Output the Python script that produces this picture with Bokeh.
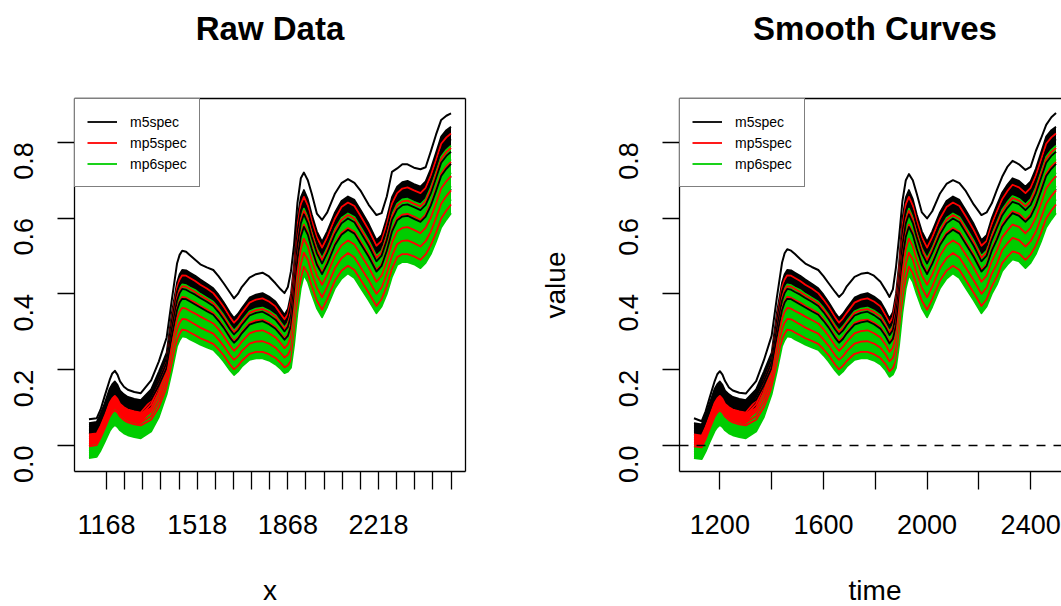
import math
from bokeh.plotting import figure
from bokeh.layouts import row, column
from bokeh.models import (FixedTicker, Legend, LegendItem, Span, LinearAxis,
                          Range1d, PrintfTickFormatter)
from bokeh.core.properties import value
from bokeh.embed import file_html
from bokeh.resources import INLINE

# ---------------- data ----------------
wavelength = [1100, 1130, 1145, 1160, 1180, 1190, 1200, 1210, 1220, 1235,
              1250, 1275, 1300, 1340, 1370, 1400, 1420, 1440, 1450, 1460,
              1475, 1490, 1510, 1530, 1555, 1580, 1600, 1620, 1645, 1660,
              1675, 1690, 1720, 1745, 1770, 1795, 1820, 1840, 1855, 1868,
              1880, 1892, 1905, 1918, 1930, 1945, 1960, 1980, 2000, 2020,
              2050, 2075, 2100, 2125, 2150, 2180, 2210, 2230, 2250, 2270,
              2290, 2310, 2330, 2355, 2380, 2400, 2420, 2440, 2460, 2480, 2498]

# one row per wavelength, one column per representative spectrum
raw_m5spec = [
    [.059, .053, .048, .042, .037, .031], [.062, .056, .051, .045, .040, .034],
    [.084, .078, .072, .067, .061, .055], [.110, .104, .098, .092, .086, .079],
    [.150, .143, .137, .130, .123, .116], [.162, .155, .148, .142, .135, .128],
    [.169, .162, .155, .148, .141, .135], [.160, .153, .147, .140, .133, .127],
    [.145, .139, .132, .126, .120, .114], [.135, .129, .123, .117, .110, .104],
    [.128, .122, .116, .110, .104, .098], [.123, .117, .111, .105, .099, .093],
    [.120, .114, .108, .102, .096, .090], [.148, .139, .130, .121, .113, .104],
    [.195, .183, .171, .159, .147, .135], [.245, .232, .219, .205, .192, .179],
    [.350, .329, .308, .287, .266, .245], [.430, .406, .382, .357, .333, .309],
    [.452, .427, .402, .377, .352, .327], [.463, .438, .413, .387, .362, .337],
    [.462, .437, .411, .386, .361, .335], [.456, .431, .405, .380, .355, .329],
    [.448, .423, .398, .372, .347, .322], [.438, .413, .389, .364, .339, .314],
    [.427, .403, .379, .354, .330, .306], [.415, .392, .368, .345, .321, .298],
    [.398, .375, .352, .329, .306, .283], [.378, .356, .333, .311, .288, .266],
    [.350, .328, .306, .284, .262, .241], [.336, .314, .293, .271, .250, .228],
    [.347, .325, .303, .281, .259, .238], [.362, .340, .318, .296, .273, .251],
    [.390, .366, .343, .319, .296, .272], [.398, .374, .350, .325, .301, .277],
    [.402, .377, .353, .328, .303, .278], [.393, .369, .344, .320, .296, .271],
    [.380, .356, .332, .308, .284, .261], [.360, .337, .315, .292, .269, .246],
    [.345, .323, .301, .279, .256, .234], [.360, .336, .313, .289, .265, .241],
    [.400, .372, .344, .316, .288, .260], [.480, .449, .418, .387, .356, .325],
    [.600, .564, .528, .492, .456, .420], [.655, .620, .586, .551, .517, .482],
    [.674, .642, .610, .577, .545, .513], [.650, .619, .587, .556, .524, .493],
    [.610, .580, .550, .519, .489, .459], [.565, .536, .507, .477, .448, .419],
    [.538, .509, .480, .452, .423, .394], [.565, .536, .508, .479, .450, .422],
    [.615, .586, .557, .529, .500, .471], [.645, .616, .586, .556, .527, .497],
    [.657, .628, .599, .569, .540, .511], [.648, .618, .589, .559, .529, .500],
    [.620, .591, .561, .531, .502, .472], [.585, .556, .527, .498, .469, .440],
    [.542, .514, .486, .459, .431, .403], [.555, .528, .501, .474, .447, .420],
    [.600, .571, .542, .514, .485, .456], [.655, .625, .595, .564, .534, .504],
    [.683, .653, .623, .594, .564, .534], [.695, .665, .634, .604, .574, .543],
    [.698, .667, .636, .606, .575, .544], [.690, .659, .629, .598, .568, .537],
    [.683, .652, .621, .590, .559, .528], [.697, .666, .635, .604, .573, .542],
    [.730, .698, .665, .633, .600, .568], [.772, .738, .705, .671, .637, .604],
    [.815, .780, .746, .711, .677, .642], [.832, .798, .764, .730, .696, .662],
    [.841, .808, .775, .743, .710, .677],
]
raw_mp5spec = [
    [.029, .023, .017, .010, .004, -.002], [.032, .026, .020, .013, .007, .001],
    [.052, .046, .039, .033, .026, .020], [.076, .070, .063, .056, .049, .043],
    [.113, .106, .098, .091, .083, .076], [.124, .117, .109, .102, .094, .087],
    [.131, .124, .116, .108, .101, .093], [.123, .116, .109, .101, .094, .087],
    [.110, .103, .097, .090, .083, .076], [.101, .094, .087, .081, .074, .067],
    [.095, .088, .081, .075, .068, .061], [.090, .083, .076, .070, .063, .056],
    [.087, .080, .073, .067, .060, .053], [.119, .109, .099, .089, .078, .068],
    [.171, .157, .143, .129, .115, .101], [.230, .214, .199, .183, .168, .153],
    [.335, .310, .286, .262, .238, .214], [.417, .389, .362, .334, .306, .279],
    [.438, .410, .381, .353, .324, .295], [.449, .420, .392, .363, .334, .306],
    [.448, .419, .390, .361, .333, .304], [.442, .413, .384, .355, .327, .298],
    [.434, .405, .377, .348, .319, .291], [.424, .396, .368, .340, .311, .283],
    [.414, .386, .359, .331, .303, .276], [.402, .375, .349, .322, .295, .268],
    [.385, .359, .333, .307, .280, .254], [.366, .340, .314, .289, .263, .238],
    [.338, .313, .288, .263, .238, .213], [.324, .299, .275, .250, .226, .201],
    [.335, .310, .285, .260, .235, .210], [.350, .324, .299, .274, .249, .223],
    [.377, .350, .323, .296, .269, .242], [.385, .357, .330, .302, .274, .247],
    [.388, .360, .332, .304, .275, .247], [.380, .352, .324, .296, .269, .241],
    [.367, .340, .312, .285, .258, .231], [.347, .321, .296, .270, .244, .218],
    [.333, .307, .282, .257, .232, .206], [.347, .320, .293, .266, .239, .212],
    [.384, .352, .320, .289, .257, .225], [.463, .428, .392, .357, .322, .287],
    [.580, .539, .498, .457, .416, .375], [.636, .596, .557, .518, .478, .439],
    [.656, .619, .583, .546, .509, .472], [.633, .597, .561, .525, .490, .454],
    [.593, .559, .524, .490, .455, .421], [.549, .516, .482, .449, .416, .382],
    [.522, .489, .456, .424, .391, .358], [.549, .516, .484, .451, .419, .386],
    [.599, .566, .533, .501, .468, .435], [.629, .595, .561, .528, .494, .461],
    [.641, .608, .574, .541, .508, .474], [.632, .598, .564, .530, .496, .463],
    [.604, .570, .536, .503, .469, .436], [.569, .536, .503, .470, .436, .403],
    [.527, .495, .463, .432, .400, .368], [.540, .509, .478, .448, .417, .386],
    [.584, .551, .518, .486, .453, .420], [.638, .604, .569, .535, .500, .466],
    [.666, .633, .599, .565, .531, .497], [.678, .644, .609, .574, .540, .505],
    [.681, .646, .611, .576, .541, .505], [.673, .638, .604, .569, .534, .499],
    [.666, .631, .595, .560, .525, .490], [.680, .645, .609, .574, .539, .504],
    [.712, .675, .638, .601, .564, .528], [.753, .715, .677, .638, .600, .561],
    [.796, .756, .717, .678, .638, .599], [.813, .774, .736, .697, .658, .620],
    [.823, .785, .748, .711, .673, .636],
]
raw_mp6spec = [
    [-.002, -.008, -.014, -.021, -.027, -.033], [.001, -.005, -.011, -.018, -.024, -.030],
    [.020, .013, .007, .000, -.006, -.013], [.043, .036, .029, .022, .015, .008],
    [.076, .068, .061, .053, .046, .038], [.087, .079, .071, .064, .056, .048],
    [.093, .085, .078, .070, .062, .054], [.087, .079, .072, .064, .057, .049],
    [.076, .069, .061, .054, .047, .040], [.067, .060, .053, .046, .039, .032],
    [.061, .055, .048, .041, .034, .027], [.056, .050, .043, .036, .029, .022],
    [.053, .047, .040, .033, .026, .019], [.087, .077, .067, .057, .047, .037],
    [.141, .128, .115, .101, .088, .075], [.207, .192, .178, .164, .149, .135],
    [.308, .286, .263, .240, .218, .195], [.393, .367, .341, .314, .288, .262],
    [.414, .387, .359, .332, .305, .278], [.425, .397, .370, .343, .315, .288],
    [.423, .396, .368, .341, .314, .286], [.417, .390, .362, .335, .308, .280],
    [.410, .382, .355, .328, .300, .273], [.400, .373, .347, .320, .293, .266],
    [.390, .364, .338, .311, .285, .259], [.379, .354, .328, .303, .277, .252],
    [.363, .338, .313, .288, .263, .238], [.344, .319, .295, .271, .246, .222],
    [.317, .293, .269, .245, .222, .198], [.303, .280, .256, .233, .209, .186],
    [.314, .290, .266, .242, .219, .195], [.328, .304, .280, .256, .232, .208],
    [.354, .328, .303, .277, .252, .226], [.361, .335, .309, .282, .256, .230],
    [.364, .337, .311, .284, .257, .230], [.356, .330, .303, .277, .250, .224],
    [.344, .318, .292, .266, .240, .214], [.325, .301, .276, .251, .227, .202],
    [.311, .287, .263, .239, .215, .191], [.324, .298, .272, .247, .221, .195],
    [.357, .327, .296, .266, .235, .205], [.433, .399, .366, .332, .299, .265],
    [.545, .506, .467, .428, .389, .350], [.602, .565, .527, .490, .452, .415],
    [.625, .590, .555, .520, .485, .450], [.602, .568, .534, .500, .466, .432],
    [.564, .531, .498, .466, .433, .400], [.520, .489, .457, .425, .394, .362],
    [.494, .463, .432, .400, .369, .338], [.521, .490, .459, .428, .397, .366],
    [.571, .540, .509, .477, .446, .415], [.600, .568, .536, .504, .472, .440],
    [.612, .581, .549, .517, .486, .454], [.603, .571, .538, .506, .474, .442],
    [.575, .543, .511, .479, .447, .415], [.541, .509, .478, .446, .415, .383],
    [.500, .469, .439, .409, .379, .349], [.514, .484, .455, .426, .396, .367],
    [.556, .525, .494, .462, .431, .400], [.609, .576, .543, .511, .478, .445],
    [.638, .605, .573, .541, .508, .476], [.649, .616, .583, .550, .517, .484],
    [.651, .618, .584, .551, .517, .484], [.643, .610, .577, .544, .511, .478],
    [.636, .602, .569, .535, .502, .468], [.650, .616, .583, .549, .516, .482],
    [.681, .645, .610, .575, .540, .505], [.721, .684, .648, .611, .575, .538],
    [.762, .725, .687, .650, .612, .575], [.780, .743, .706, .670, .633, .596],
    [.791, .755, .720, .684, .649, .613],
]
raw_m5_high = [.069, .072, .095, .129, .173, .190, .197, .187, .169, .155,
               .147, .141, .138, .172, .222, .285, .385, .480, .503, .514,
               .511, .502, .490, .478, .470, .463, .447, .428, .403, .388,
               .400, .418, .443, .452, .456, .446, .428, .412, .402, .418,
               .460, .530, .640, .705, .720, .700, .665, .612, .595, .615,
               .665, .692, .703, .693, .671, .635, .608, .613, .657, .722,
               .731, .742, .742, .733, .729, .734, .776, .820, .859, .870, .876]

smooth_m5spec = [
    [.059, .053, .048, .042, .037, .031], [.056, .050, .045, .039, .034, .028],
    [.081, .075, .069, .064, .058, .052], [.110, .104, .098, .092, .086, .079],
    [.150, .143, .137, .130, .123, .116], [.162, .155, .148, .142, .135, .128],
    [.169, .162, .155, .148, .141, .135], [.160, .153, .147, .140, .133, .127],
    [.145, .139, .132, .126, .120, .114], [.135, .129, .123, .117, .110, .104],
    [.128, .122, .116, .110, .104, .098], [.123, .117, .111, .105, .099, .093],
    [.120, .114, .108, .102, .096, .090], [.148, .139, .130, .121, .113, .104],
    [.195, .183, .171, .159, .147, .135], [.245, .232, .219, .205, .192, .179],
    [.350, .329, .308, .287, .266, .245], [.430, .406, .382, .357, .333, .309],
    [.452, .427, .402, .377, .352, .327], [.463, .438, .413, .387, .362, .337],
    [.462, .437, .411, .386, .361, .335], [.456, .431, .405, .380, .355, .329],
    [.448, .423, .398, .372, .347, .322], [.438, .413, .389, .364, .339, .314],
    [.427, .403, .379, .354, .330, .306], [.415, .392, .368, .345, .321, .298],
    [.398, .375, .352, .329, .306, .283], [.378, .356, .333, .311, .288, .266],
    [.350, .328, .306, .284, .262, .241], [.336, .314, .293, .271, .250, .228],
    [.347, .325, .303, .281, .259, .238], [.362, .340, .318, .296, .273, .251],
    [.390, .366, .343, .319, .296, .272], [.398, .374, .350, .325, .301, .277],
    [.402, .377, .353, .328, .303, .278], [.393, .369, .344, .320, .296, .271],
    [.380, .356, .332, .308, .284, .261], [.356, .333, .311, .288, .265, .242],
    [.335, .313, .291, .269, .246, .224], [.352, .328, .305, .281, .257, .233],
    [.400, .372, .344, .316, .288, .260], [.480, .449, .418, .387, .356, .325],
    [.600, .564, .528, .492, .456, .420], [.655, .620, .586, .551, .517, .482],
    [.674, .642, .610, .577, .545, .513], [.650, .619, .587, .556, .524, .493],
    [.610, .580, .550, .519, .489, .459], [.565, .536, .507, .477, .448, .419],
    [.538, .509, .480, .452, .423, .394], [.565, .536, .508, .479, .450, .422],
    [.615, .586, .557, .529, .500, .471], [.645, .616, .586, .556, .527, .497],
    [.657, .628, .599, .569, .540, .511], [.648, .618, .589, .559, .529, .500],
    [.620, .591, .561, .531, .502, .472], [.585, .556, .527, .498, .469, .440],
    [.542, .514, .486, .459, .431, .403], [.555, .528, .501, .474, .447, .420],
    [.600, .571, .542, .514, .485, .456], [.635, .605, .575, .544, .514, .484],
    [.667, .637, .607, .578, .548, .518], [.688, .658, .627, .597, .567, .536],
    [.705, .674, .643, .613, .582, .551], [.698, .667, .637, .606, .576, .545],
    [.683, .652, .621, .590, .559, .528], [.697, .666, .635, .604, .573, .542],
    [.730, .698, .665, .633, .600, .568], [.772, .738, .705, .671, .637, .604],
    [.815, .780, .746, .711, .677, .642], [.832, .798, .764, .730, .696, .662],
    [.841, .808, .775, .743, .710, .677],
]
smooth_mp5spec = [
    [.029, .023, .017, .010, .004, -.002], [.026, .020, .014, .007, .001, -.005],
    [.049, .043, .036, .030, .023, .017], [.076, .070, .063, .056, .049, .043],
    [.113, .106, .098, .091, .083, .076], [.124, .117, .109, .102, .094, .087],
    [.131, .124, .116, .108, .101, .093], [.123, .116, .109, .101, .094, .087],
    [.110, .103, .097, .090, .083, .076], [.101, .094, .087, .081, .074, .067],
    [.095, .088, .081, .075, .068, .061], [.090, .083, .076, .070, .063, .056],
    [.087, .080, .073, .067, .060, .053], [.119, .109, .099, .089, .078, .068],
    [.171, .157, .143, .129, .115, .101], [.230, .214, .199, .183, .168, .153],
    [.335, .310, .286, .262, .238, .214], [.417, .389, .362, .334, .306, .279],
    [.438, .410, .381, .353, .324, .295], [.449, .420, .392, .363, .334, .306],
    [.448, .419, .390, .361, .333, .304], [.442, .413, .384, .355, .327, .298],
    [.434, .405, .377, .348, .319, .291], [.424, .396, .368, .340, .311, .283],
    [.414, .386, .359, .331, .303, .276], [.402, .375, .349, .322, .295, .268],
    [.385, .359, .333, .307, .280, .254], [.366, .340, .314, .289, .263, .238],
    [.338, .313, .288, .263, .238, .213], [.324, .299, .275, .250, .226, .201],
    [.335, .310, .285, .260, .235, .210], [.350, .324, .299, .274, .249, .223],
    [.377, .350, .323, .296, .269, .242], [.385, .357, .330, .302, .274, .247],
    [.388, .360, .332, .304, .275, .247], [.380, .352, .324, .296, .269, .241],
    [.367, .340, .312, .285, .258, .231], [.343, .317, .292, .266, .240, .214],
    [.323, .297, .272, .247, .222, .196], [.339, .312, .285, .258, .231, .204],
    [.384, .352, .320, .289, .257, .225], [.463, .428, .392, .357, .322, .287],
    [.580, .539, .498, .457, .416, .375], [.636, .596, .557, .518, .478, .439],
    [.656, .619, .583, .546, .509, .472], [.633, .597, .561, .525, .490, .454],
    [.593, .559, .524, .490, .455, .421], [.549, .516, .482, .449, .416, .382],
    [.522, .489, .456, .424, .391, .358], [.549, .516, .484, .451, .419, .386],
    [.599, .566, .533, .501, .468, .435], [.629, .595, .561, .528, .494, .461],
    [.641, .608, .574, .541, .508, .474], [.632, .598, .564, .530, .496, .463],
    [.604, .570, .536, .503, .469, .436], [.569, .536, .503, .470, .436, .403],
    [.527, .495, .463, .432, .400, .368], [.540, .509, .478, .448, .417, .386],
    [.584, .551, .518, .486, .453, .420], [.618, .584, .549, .515, .480, .446],
    [.650, .617, .583, .549, .515, .481], [.671, .637, .602, .567, .533, .498],
    [.688, .653, .618, .583, .548, .512], [.681, .646, .612, .577, .542, .507],
    [.666, .631, .595, .560, .525, .490], [.680, .645, .609, .574, .539, .504],
    [.712, .675, .638, .601, .564, .528], [.753, .715, .677, .638, .600, .561],
    [.796, .756, .717, .678, .638, .599], [.813, .774, .736, .697, .658, .620],
    [.823, .785, .748, .711, .673, .636],
]
smooth_mp6spec = [
    [-.002, -.008, -.014, -.021, -.027, -.033], [-.005, -.011, -.017, -.024, -.030, -.036],
    [.017, .010, .004, -.003, -.009, -.016], [.043, .036, .029, .022, .015, .008],
    [.076, .068, .061, .053, .046, .038], [.087, .079, .071, .064, .056, .048],
    [.093, .085, .078, .070, .062, .054], [.087, .079, .072, .064, .057, .049],
    [.076, .069, .061, .054, .047, .040], [.067, .060, .053, .046, .039, .032],
    [.061, .055, .048, .041, .034, .027], [.056, .050, .043, .036, .029, .022],
    [.053, .047, .040, .033, .026, .019], [.087, .077, .067, .057, .047, .037],
    [.141, .128, .115, .101, .088, .075], [.207, .192, .178, .164, .149, .135],
    [.308, .286, .263, .240, .218, .195], [.393, .367, .341, .314, .288, .262],
    [.414, .387, .359, .332, .305, .278], [.425, .397, .370, .343, .315, .288],
    [.423, .396, .368, .341, .314, .286], [.417, .390, .362, .335, .308, .280],
    [.410, .382, .355, .328, .300, .273], [.400, .373, .347, .320, .293, .266],
    [.390, .364, .338, .311, .285, .259], [.379, .354, .328, .303, .277, .252],
    [.363, .338, .313, .288, .263, .238], [.344, .319, .295, .271, .246, .222],
    [.317, .293, .269, .245, .222, .198], [.303, .280, .256, .233, .209, .186],
    [.314, .290, .266, .242, .219, .195], [.328, .304, .280, .256, .232, .208],
    [.354, .328, .303, .277, .252, .226], [.361, .335, .309, .282, .256, .230],
    [.364, .337, .311, .284, .257, .230], [.356, .330, .303, .277, .250, .224],
    [.344, .318, .292, .266, .240, .214], [.321, .297, .272, .247, .223, .198],
    [.301, .277, .253, .229, .205, .181], [.316, .290, .264, .239, .213, .187],
    [.357, .327, .296, .266, .235, .205], [.433, .399, .366, .332, .299, .265],
    [.545, .506, .467, .428, .389, .350], [.602, .565, .527, .490, .452, .415],
    [.625, .590, .555, .520, .485, .450], [.602, .568, .534, .500, .466, .432],
    [.564, .531, .498, .466, .433, .400], [.520, .489, .457, .425, .394, .362],
    [.494, .463, .432, .400, .369, .338], [.521, .490, .459, .428, .397, .366],
    [.571, .540, .509, .477, .446, .415], [.600, .568, .536, .504, .472, .440],
    [.612, .581, .549, .517, .486, .454], [.603, .571, .538, .506, .474, .442],
    [.575, .543, .511, .479, .447, .415], [.541, .509, .478, .446, .415, .383],
    [.500, .469, .439, .409, .379, .349], [.514, .484, .455, .426, .396, .367],
    [.556, .525, .494, .462, .431, .400], [.589, .556, .523, .491, .458, .425],
    [.622, .589, .557, .525, .492, .460], [.642, .609, .576, .543, .510, .477],
    [.658, .625, .591, .558, .524, .491], [.651, .618, .585, .552, .519, .486],
    [.636, .602, .569, .535, .502, .468], [.650, .616, .583, .549, .516, .482],
    [.681, .645, .610, .575, .540, .505], [.721, .684, .648, .611, .575, .538],
    [.762, .725, .687, .650, .612, .575], [.780, .743, .706, .670, .633, .596],
    [.791, .755, .720, .684, .649, .613],
]
smooth_m5_high = [.072, .064, .090, .125, .170, .188, .196, .187, .170, .153,
                  .145, .139, .137, .170, .225, .290, .390, .482, .507, .518,
                  .514, .505, .492, .480, .471, .463, .447, .428, .405, .392,
                  .402, .420, .445, .453, .456, .448, .432, .410, .392, .412,
                  .470, .550, .645, .700, .716, .700, .665, .615, .599, .618,
                  .665, .690, .700, .692, .671, .636, .608, .615, .639, .675,
                  .709, .735, .751, .742, .727, .735, .777, .810, .846, .866, .877]

series_names = ["m5spec", "mp5spec", "mp6spec"]
series_colors = ["#000000", "#FF0000", "#00CD00"]

x_ticks_raw = [1168, 1238, 1308, 1378, 1448, 1518, 1588, 1658, 1728, 1798,
               1868, 1938, 2008, 2078, 2148, 2218, 2288, 2358, 2428, 2498]
x_labels_raw = ["1168", "1518", "1868", "2218"]
x_ticks_smooth = [1200, 1400, 1600, 1800, 2000, 2200, 2400]
x_labels_smooth = ["1200", "1600", "2000", "2400"]
y_ticks = [0.0, 0.2, 0.4, 0.6, 0.8]
zero_level = 0.0

for tbl in (raw_m5spec, raw_mp5spec, raw_mp6spec, smooth_m5spec, smooth_mp5spec,
            smooth_mp6spec, raw_m5_high, smooth_m5_high):
    assert len(tbl) == len(wavelength)

# ---------------- layout / styling ----------------
FONT = "Liberation Sans"
X_START, X_END_FULL = 1044.1, 2553.9
Y_START, Y_END = -0.0686, 0.9155
FRAME_W, FRAME_H = 391, 373
PX_X = FRAME_W / (X_END_FULL - X_START)
AX_W = 1.3
TOP_STRIP, MAIN_TOP, MAIN_BOTTOM, BOTTOM_STRIP = 73, 25, 80, 55


def blank_axis():
    return LinearAxis(ticker=FixedTicker(ticks=[]), major_label_text_font_size="0px",
                      major_label_standoff=0, major_tick_out=0, major_tick_in=0,
                      minor_tick_out=0, minor_tick_in=0,
                      axis_line_color="black", axis_line_width=AX_W)


def strip(width, height, cx, ypos, text, size, style):
    s = figure(width=width, height=height, x_range=Range1d(0, width), y_range=Range1d(0, height),
               x_axis_type=None, y_axis_type=None, toolbar_location=None,
               output_backend="svg", min_border=0, outline_line_color=None)
    s.border_fill_color = "white"
    s.background_fill_color = "white"
    s.text(x=[cx], y=[ypos], text=[text], text_font=value(FONT),
           text_font_size=value(size), text_font_style=style, text_color="black",
           text_align="center", text_baseline="alphabetic")
    return s


def panel(width, border_left, border_right, x_end, groups, high, xticks, xlabels,
          ylabel, zero_line, right_box):
    p = figure(width=width, height=MAIN_TOP + FRAME_H + MAIN_BOTTOM, output_backend="svg",
               toolbar_location=None,
               x_range=Range1d(X_START, x_end), y_range=Range1d(Y_START, Y_END),
               min_border_left=border_left, min_border_right=border_right,
               min_border_top=MAIN_TOP, min_border_bottom=MAIN_BOTTOM)
    p.grid.visible = False
    p.background_fill_color = "white"
    p.border_fill_color = "white"
    p.outline_line_color = None

    curves = [[list(c) for c in zip(*rows)] for rows in groups]
    n = len(curves[0])
    first = [None, None, None]

    def draw(gi, k):
        r = p.line(wavelength, curves[gi][k], line_color=series_colors[gi],
                   line_width=1.8, line_join="round")
        if first[gi] is None:
            first[gi] = r

    p.varea(x=wavelength, y1=curves[1][0], y2=curves[1][-1], fill_color=series_colors[1])
    p.varea(x=wavelength, y1=curves[0][0], y2=curves[0][-1], fill_color=series_colors[0])
    for k in range(n // 2 + 1, n):
        draw(0, k)
    p.varea(x=wavelength, y1=curves[2][0], y2=curves[2][-1], fill_color=series_colors[2])
    for k in range(n):
        if k <= n // 2:
            draw(0, k)
        draw(1, k)
        draw(2, k)
    p.line(wavelength, high, line_color=series_colors[0], line_width=2, line_join="round")

    if zero_line:
        p.add_layout(Span(location=zero_level, dimension="width", line_color="black",
                          line_dash="9 8", line_width=1.4))

    xa = p.xaxis[0]
    xa.ticker = FixedTicker(ticks=xticks)
    xa.major_label_overrides = {t: (str(t) if str(t) in xlabels else "") for t in xticks}
    ya = p.yaxis[0]
    ya.ticker = FixedTicker(ticks=y_ticks)
    ya.formatter = PrintfTickFormatter(format="%.1f")
    ya.major_label_orientation = math.pi / 2
    for ax in (xa, ya):
        ax.axis_line_color = "black"
        ax.axis_line_width = AX_W
        ax.major_tick_line_color = "black"
        ax.major_tick_line_width = AX_W
        ax.major_tick_in = 0
        ax.minor_tick_in = 0
        ax.minor_tick_out = 0
        ax.major_label_text_font = FONT
        ax.major_label_text_font_size = "27px"
        ax.major_label_text_color = "black"
        ax.axis_label_text_font = FONT
        ax.axis_label_text_font_size = "28px"
        ax.axis_label_text_font_style = "normal"
        ax.axis_label_text_color = "black"
    xa.major_tick_out = 18
    xa.major_label_standoff = 25
    ya.major_tick_out = 17
    ya.major_label_standoff = 34
    if ylabel:
        ya.axis_label = ylabel
        ya.axis_label_standoff = 36

    p.add_layout(blank_axis(), "above")
    if right_box:
        p.add_layout(blank_axis(), "right")

    legend = Legend(items=[LegendItem(label=nm, renderers=[first[i]])
                           for i, nm in enumerate(series_names)],
                    location="top_left", margin=0, padding=12, spacing=0,
                    glyph_width=30, glyph_height=21, label_height=21, label_standoff=13,
                    label_text_font=FONT, label_text_font_size="14px",
                    label_text_color="black",
                    border_line_color="black", border_line_width=AX_W,
                    background_fill_color="white", background_fill_alpha=1.0)
    p.add_layout(legend)
    return p


LEFT_W, RIGHT_W = 530, 531
LEFT_BL, RIGHT_BL = 74, 149

left = panel(LEFT_W, LEFT_BL, LEFT_W - LEFT_BL - FRAME_W, X_END_FULL,
             [raw_m5spec, raw_mp5spec, raw_mp6spec], raw_m5_high,
             x_ticks_raw, x_labels_raw, None, False, True)
right = panel(RIGHT_W, RIGHT_BL, 0, X_START + (RIGHT_W - RIGHT_BL) / PX_X,
              [smooth_m5spec, smooth_mp5spec, smooth_mp6spec], smooth_m5_high,
              x_ticks_smooth, x_labels_smooth, "value", True, False)

# text anchor heights inside the strips (measured from each strip's bottom edge)
TITLE_Y = 45
XLAB_Y = 16
title_l = strip(LEFT_W, TOP_STRIP, LEFT_BL + FRAME_W / 2, TITLE_Y, "Raw Data", "33px", "bold")
title_r = strip(RIGHT_W, TOP_STRIP, RIGHT_BL + FRAME_W / 2, TITLE_Y, "Smooth Curves", "33px", "bold")
xlab_l = strip(LEFT_W, BOTTOM_STRIP, LEFT_BL + FRAME_W / 2, XLAB_Y, "x", "28px", "normal")
xlab_r = strip(RIGHT_W, BOTTOM_STRIP, RIGHT_BL + FRAME_W / 2, XLAB_Y, "time", "28px", "normal")

layout = column(row(title_l, title_r), row(left, right), row(xlab_l, xlab_r))
open("out.html", "w").write(file_html(layout, INLINE))
